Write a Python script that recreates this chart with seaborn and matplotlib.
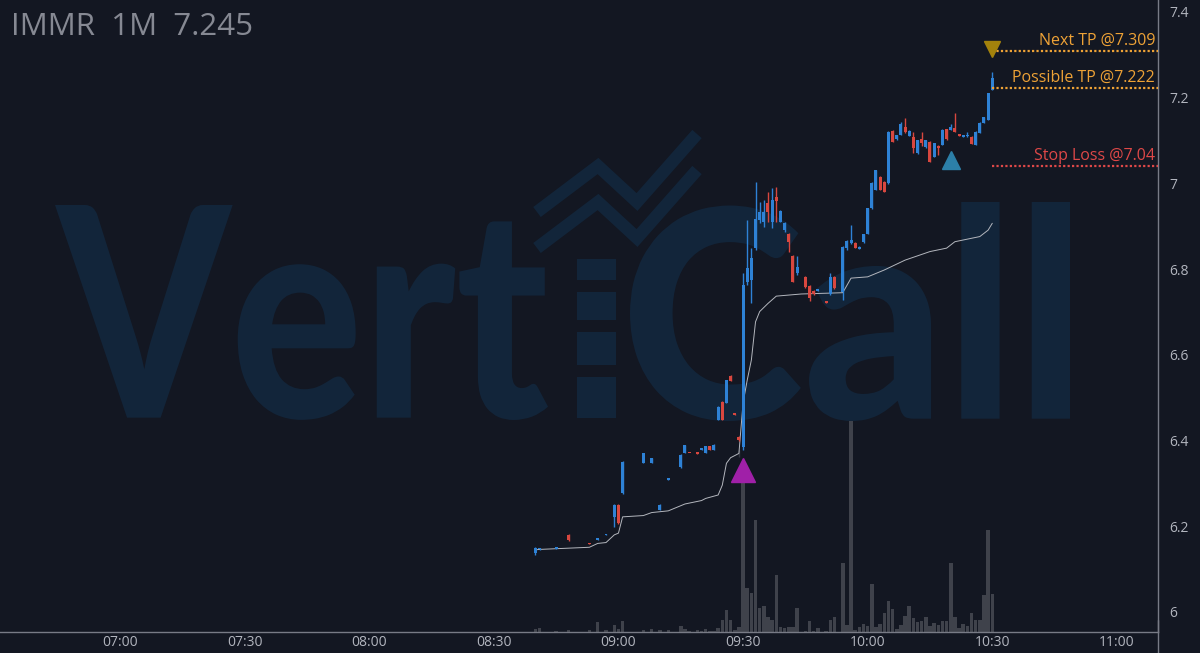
import pandas as pd
import numpy as np
import matplotlib.pyplot as plt
import seaborn as sns
from matplotlib.textpath import TextPath
from matplotlib.patches import PathPatch, Rectangle
from matplotlib.transforms import Affine2D
from matplotlib.font_manager import FontProperties
from matplotlib.lines import Line2D

# 1 minute candles, IMMR
times = ['08:40', '08:41', '08:45', '08:48', '08:53', '08:55', '08:57', '08:59', '09:00', '09:01',
         '09:06', '09:08', '09:10', '09:12', '09:15', '09:16', '09:17', '09:19', '09:20', '09:21',
         '09:22', '09:23', '09:24', '09:25', '09:26', '09:27', '09:28', '09:29', '09:30', '09:31',
         '09:32', '09:33', '09:34', '09:35', '09:36', '09:37', '09:38', '09:39', '09:40', '09:41',
         '09:42', '09:43', '09:45', '09:46', '09:47', '09:48', '09:50', '09:51', '09:52', '09:54',
         '09:55', '09:56', '09:57', '09:58', '09:59', '10:00', '10:01', '10:02', '10:03', '10:04',
         '10:05', '10:06', '10:07', '10:08', '10:09', '10:10', '10:11', '10:12', '10:13', '10:14',
         '10:15', '10:16', '10:17', '10:18', '10:19', '10:20', '10:21', '10:22', '10:23', '10:24',
         '10:25', '10:26', '10:27', '10:28', '10:29', '10:30']
opens = [6.138, 6.146, 6.148, 6.180, 6.160, 6.168, 6.179, 6.222, 6.250, 6.277,
         6.348, 6.348, 6.238, 6.309, 6.338, 6.371, 6.372, 6.371, 6.379, 6.371,
         6.387, 6.378, 6.448, 6.491, 6.488, 6.551, 6.462, 6.409, 6.386, 6.771,
         6.775, 6.849, 6.915, 6.911, 6.954, 6.911, 6.969, 6.911, 6.891, 6.882,
         6.831, 6.792, 6.781, 6.760, 6.750, 6.750, 6.723, 6.742, 6.781, 6.747,
         6.849, 6.861, 6.862, 6.848, 6.864, 6.882, 6.942, 6.985, 7.016, 7.004,
         7.000, 7.123, 7.103, 7.113, 7.132, 7.111, 7.109, 7.070, 7.103, 7.084,
         7.097, 7.062, 7.088, 7.090, 7.126, 7.125, 7.129, 7.113, 7.108, 7.110,
         7.109, 7.090, 7.118, 7.141, 7.148, 7.218]
highs = [6.152, 6.149, 6.150, 6.182, 6.160, 6.170, 6.181, 6.252, 6.252, 6.352,
         6.372, 6.360, 6.251, 6.311, 6.369, 6.390, 6.372, 6.371, 6.381, 6.388,
         6.388, 6.391, 6.480, 6.492, 6.542, 6.552, 6.462, 6.410, 6.790, 6.915,
         6.849, 7.004, 6.957, 6.961, 6.981, 6.989, 6.992, 6.938, 6.909, 6.884,
         6.833, 6.831, 6.783, 6.762, 6.752, 6.752, 6.723, 6.790, 6.783, 6.853,
         6.868, 6.903, 6.864, 6.853, 6.883, 6.943, 7.003, 7.032, 7.017, 7.005,
         7.122, 7.124, 7.114, 7.143, 7.152, 7.124, 7.121, 7.102, 7.121, 7.102,
         7.098, 7.095, 7.089, 7.126, 7.127, 7.138, 7.164, 7.113, 7.110, 7.121,
         7.110, 7.122, 7.143, 7.156, 7.211, 7.261]
lows = [6.133, 6.145, 6.147, 6.166, 6.158, 6.168, 6.179, 6.198, 6.205, 6.276,
        6.347, 6.347, 6.237, 6.309, 6.335, 6.370, 6.370, 6.369, 6.379, 6.370,
        6.377, 6.377, 6.447, 6.447, 6.487, 6.539, 6.460, 6.400, 6.377, 6.763,
        6.720, 6.845, 6.908, 6.899, 6.911, 6.895, 6.911, 6.909, 6.887, 6.841,
        6.769, 6.786, 6.757, 6.725, 6.740, 6.750, 6.721, 6.740, 6.753, 6.728,
        6.845, 6.859, 6.849, 6.846, 6.862, 6.881, 6.941, 6.984, 6.984, 6.980,
        6.999, 7.096, 7.102, 7.112, 7.117, 7.110, 7.070, 7.069, 7.087, 7.083,
        7.050, 7.061, 7.066, 7.089, 7.102, 7.124, 7.120, 7.111, 7.108, 7.109,
        7.091, 7.089, 7.117, 7.140, 7.147, 7.217]
closes = [6.150, 6.148, 6.149, 6.168, 6.158, 6.170, 6.181, 6.250, 6.207, 6.351,
          6.371, 6.359, 6.250, 6.311, 6.366, 6.390, 6.370, 6.369, 6.381, 6.387,
          6.378, 6.390, 6.479, 6.448, 6.541, 6.540, 6.460, 6.401, 6.763, 6.802,
          6.825, 6.916, 6.934, 6.934, 6.934, 6.961, 6.960, 6.936, 6.907, 6.864,
          6.771, 6.806, 6.759, 6.732, 6.742, 6.752, 6.721, 6.781, 6.755, 6.851,
          6.866, 6.868, 6.850, 6.852, 6.882, 6.942, 7.002, 7.031, 6.985, 6.981,
          7.121, 7.097, 7.113, 7.139, 7.121, 7.123, 7.082, 7.101, 7.094, 7.101,
          7.051, 7.094, 7.082, 7.125, 7.103, 7.132, 7.121, 7.111, 7.110, 7.114,
          7.092, 7.121, 7.142, 7.155, 7.210, 7.245]
volumes = [3, 4, 1, 2, 2, 10, 2, 7, 3, 11,
           2, 3, 2, 2, 6, 3, 1, 2, 1, 3,
           1, 1, 4, 12, 22, 12, 2, 5, 155, 44,
           39, 112, 24, 26, 15, 12, 57, 5, 4, 5,
           5, 24, 1, 11, 1, 4, 1, 12, 15, 69,
           7, 211, 2, 5, 8, 6, 48, 5, 8, 19,
           31, 23, 3, 7, 16, 26, 14, 10, 11, 15,
           6, 9, 7, 11, 11, 69, 15, 4, 8, 6,
           19, 12, 12, 37, 102, 38]

vwap_times = ['08:40', '08:41', '08:53', '08:55', '08:57', '08:59', '09:00', '09:01', '09:06', '09:08',
              '09:12', '09:16', '09:20', '09:21', '09:24', '09:25', '09:26', '09:27', '09:29', '09:29',
              '09:30', '09:31', '09:32', '09:33', '09:34', '09:36', '09:38', '09:44', '09:54', '09:56',
              '10:00', '10:04', '10:09', '10:15', '10:19', '10:21', '10:27', '10:29', '10:30']
vwap_values = [6.145, 6.146, 6.151, 6.160, 6.162, 6.180, 6.184, 6.222, 6.225, 6.232,
               6.236, 6.252, 6.260, 6.265, 6.273, 6.296, 6.347, 6.360, 6.362, 6.378,
               6.488, 6.541, 6.588, 6.677, 6.701, 6.720, 6.737, 6.742, 6.745, 6.779,
               6.782, 6.798, 6.821, 6.841, 6.849, 6.864, 6.876, 6.891, 6.907]

tick_times = ['07:00', '07:30', '08:00', '08:30', '09:00', '09:30', '10:00', '10:30', '11:00']
price_ticks = [6.0, 6.2, 6.4, 6.6, 6.8, 7.0, 7.2, 7.4]
price_labels = ['6', '6.2', '6.4', '6.6', '6.8', '7', '7.2', '7.4']

level_prices = [7.309, 7.222, 7.04]
level_labels = ['Next TP @7.309', 'Possible TP @7.222', 'Stop Loss @7.04']
level_colors = ['#eea236', '#eea236', '#de4848']

signal_times = ['09:30', '10:20', '10:30']
signal_prices = [6.331, 7.055, 7.314]
signal_markers = ['^', '^', 'v']
signal_colors = ['#a020a8', '#2c7fa8', '#a3820c']
signal_sizes = [17, 13, 12]


def to_min(s):
    h, m = s.split(':')
    return (int(h) - 9) * 60 + int(m)


df = pd.DataFrame({'t': [to_min(t) for t in times], 'o': opens, 'h': highs,
                   'l': lows, 'c': closes, 'v': volumes})
df['up'] = df['c'] >= df['o']

BG = '#131722'
W, H = 1200, 653
sns.set_style('dark')
plt.rcParams['font.family'] = ['Open Sans', 'DejaVu Sans']

fig = plt.figure(figsize=(12, 6.53), dpi=100, facecolor=BG)
rect = [0, 21 / H, 1158 / W, 632 / H]
axv = fig.add_axes(rect)
ax = fig.add_axes(rect, sharex=axv)
for a in (axv, ax):
    a.set_facecolor('none')
    a.patch.set_visible(False)

# pixel coords (from top-left) -> figure
px = Affine2D().scale(1 / W, -1 / H).translate(0, 1) + fig.transFigure

# watermark
wm = '#12253a'
wm_font = FontProperties(family=['Lato', 'Open Sans'], weight='black')


def place_word(s, x0, x1, ytop, ybot):
    tp = TextPath((0, 0), s, size=100, prop=wm_font)
    e = tp.get_extents()
    tr = (Affine2D().translate(-e.x0, -e.y1)
          .scale((x1 - x0) / e.width, -(ybot - ytop) / e.height)
          .translate(x0, ytop) + px)
    fig.add_artist(PathPatch(tp, transform=tr, facecolor=wm, lw=0, zorder=-2))


place_word('Vert', 55, 548, 205, 420)
place_word('Call', 630, 1070, 202, 421)
for y0, y1 in [(259, 280), (292, 320), (332, 365), (377, 418)]:
    fig.add_artist(Rectangle((577, y0), 39, y1 - y0, transform=px, facecolor=wm, lw=0, zorder=-2))
for dy in (0, 36):
    fig.add_artist(Line2D([537, 598, 637, 697], [212 + dy, 166 + dy, 202 + dy, 134 + dy],
                          transform=px, color=wm, lw=9, solid_joinstyle='miter',
                          solid_capstyle='butt', zorder=-2))

# volume
axv.bar(df['t'], df['v'], width=0.85, color='#3f424b', linewidth=0)
axv.set_ylim(0, 632)
axv.axis('off')

# candles
cols = np.where(df['up'], '#2e82d6', '#d8473f')
ax.vlines(df['t'], df['l'], df['h'], colors=cols, linewidth=1, zorder=3)
body = np.maximum((df['c'] - df['o']).abs(), 0.004)
ax.bar(df['t'], body, bottom=np.minimum(df['o'], df['c']), width=0.72, color=cols,
       linewidth=0, zorder=4)

# vwap
sns.lineplot(x=[to_min(t) for t in vwap_times], y=vwap_values, ax=ax, color='#b4b7be',
             linewidth=0.7, sort=False, zorder=2)

xmin, xmax = -148.9, 129.9
ax.set_xlim(xmin, xmax)
ax.set_ylim(5.9533, 7.428)

# levels
for p, lab, c in zip(level_prices, level_labels, level_colors):
    ax.hlines(p, 90, xmax, colors=c, linestyles=(0, (1, 1)), linewidth=1.6, zorder=5)
    ax.annotate(lab, xy=(129.2, p), xytext=(0, 1.8), textcoords='offset points',
                ha='right', va='bottom', color=c, fontsize=11.5)

for t, p, m, c, s in zip(signal_times, signal_prices, signal_markers, signal_colors, signal_sizes):
    ax.plot(to_min(t), p, marker=m, color=c, markersize=s, linestyle='none', zorder=6)

# axes
ax.yaxis.tick_right()
ax.set_yticks(price_ticks, price_labels)
ax.set_xticks([to_min(t) for t in tick_times], tick_times)
ax.tick_params(axis='y', length=0, pad=8, labelsize=10, colors='#b2b5be')
ax.tick_params(axis='x', length=0, pad=2, labelsize=10, colors='#b2b5be')
ax.set_xlabel('')
ax.set_ylabel('')
ax.grid(False)
for side in ('left', 'top'):
    ax.spines[side].set_visible(False)
for side in ('right', 'bottom'):
    ax.spines[side].set_visible(True)
    ax.spines[side].set_color('#787b86')
    ax.spines[side].set_linewidth(1)
fig.add_artist(Line2D([1158, 1158], [620, 653], transform=px, color='#787b86', lw=1))

fig.text(11 / W, 1 - 35 / H, 'IMMR  1M  7.245', color='#868993', fontsize=22.5, va='baseline')

fig.savefig('out.png', dpi=100, facecolor=BG)
